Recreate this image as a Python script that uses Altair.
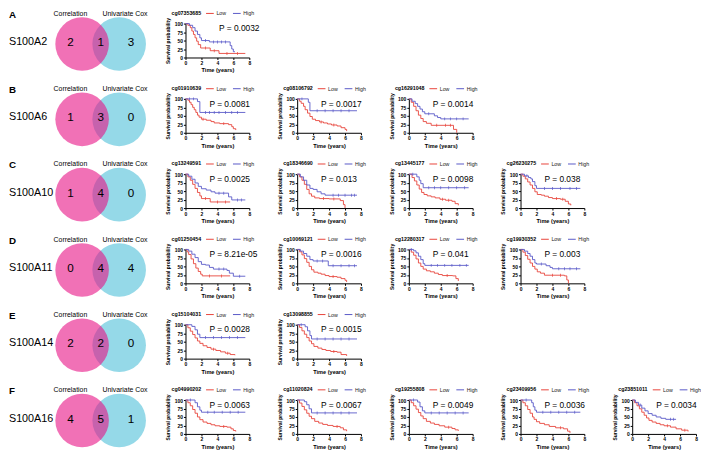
import altair as alt
import pandas as pd

FONT = "Liberation Sans"
RED = "#E8453C"
BLUE = "#5A5AC8"
PINK = "#E81285"   # drawn at 0.6 opacity
CYAN = "#95D9E8"

# ---------------- Venn data ----------------
LETTERS = ["A", "B", "C", "D", "E", "F"]
GENES = ["S100A2", "S100A6", "S100A10", "S100A11", "S100A14", "S100A16"]
CORR_ONLY = [2, 1, 1, 0, 2, 4]
BOTH = [1, 3, 4, 4, 2, 5]
COX_ONLY = [3, 0, 0, 4, 0, 1]

# ---------------- KM panels ----------------
PROBES = [
    ["cg07353685"],
    ["cg01910639", "cg08106792", "cg16291048"],
    ["cg13249591", "cg18346690", "cg13445177", "cg26230275"],
    ["cg01250454", "cg10069121", "cg12280317", "cg19930352"],
    ["cg15104031", "cg13098855"],
    ["cg04990202", "cg11020824", "cg19255808", "cg23409956", "cg23851011"],
]
PVALS = [
    ["0.0032"],
    ["0.0081", "0.0017", "0.0014"],
    ["0.0025", "0.013", "0.0098", "0.038"],
    ["8.21e-05", "0.0016", "0.041", "0.003"],
    ["0.0028", "0.0015"],
    ["0.0063", "0.0067", "0.0049", "0.0036", "0.0034"],
]

CURVES = {
    "cg07353685": dict(
        low_t=[0, 0.3, 0.6, 0.8, 1.0, 1.2, 1.4, 1.6, 1.9, 3.1, 4.2, 7.5],
        low_s=[100, 95, 88, 78, 68, 58, 48, 38, 28, 20, 12, 12],
        low_c=[2.5, 3.6, 5.2, 6.5],
        high_t=[0, 0.5, 0.9, 1.2, 1.5, 1.8, 2.0, 3.0, 5.6, 5.8, 6.0, 6.2],
        high_s=[100, 95, 88, 78, 68, 58, 50, 46, 35, 25, 17, 17],
        high_c=[2.5, 3.5, 4.0, 4.5, 5.0]),
    "cg01910639": dict(
        low_t=[0, 0.3, 0.5, 0.7, 0.9, 1.1, 1.3, 1.5, 1.7, 2.0, 2.6, 3.2, 3.6, 4.3, 5.4, 5.8, 6.0, 6.3],
        low_s=[100, 96, 90, 83, 75, 68, 60, 52, 46, 40, 37, 33, 29, 27, 24, 18, 12, 8],
        low_c=[2.2, 4.8],
        high_t=[0, 1.5, 1.8, 7.5],
        high_s=[100, 92, 60, 60],
        high_c=[0.5, 1.0, 2.5, 3.0, 3.6, 4.2, 5.0, 5.8, 6.5]),
    "cg08106792": dict(
        low_t=[0, 0.3, 0.5, 0.8, 1.0, 1.3, 1.6, 1.9, 2.3, 2.8, 3.3, 3.8, 4.3, 5.0, 5.5, 6.0, 6.2],
        low_s=[100, 93, 87, 78, 68, 58, 48, 40, 36, 32, 29, 26, 23, 20, 15, 10, 5],
        low_c=[3.0, 4.6],
        high_t=[0, 1.4, 1.6, 7.5],
        high_s=[100, 90, 65, 65],
        high_c=[0.6, 2.5, 3.5, 4.5, 5.5, 6.5]),
    "cg16291048": dict(
        low_t=[0, 0.3, 0.6, 0.9, 1.2, 1.5, 1.8, 2.2, 2.8, 5.6, 6.0],
        low_s=[100, 90, 78, 65, 52, 42, 33, 28, 22, 10, 0],
        low_c=[3.5, 4.6, 5.2],
        high_t=[0, 0.4, 0.8, 1.1, 1.4, 1.7, 2.0, 3.2, 3.6, 4.0, 7.5],
        high_s=[100, 93, 86, 78, 70, 62, 56, 50, 45, 41, 41],
        high_c=[2.5, 4.5, 5.2, 6.0, 6.8]),
    "cg13249591": dict(
        low_t=[0, 0.3, 0.6, 0.9, 1.2, 1.5, 1.8, 2.0, 3.1, 5.6],
        low_s=[100, 92, 82, 70, 58, 46, 36, 28, 18, 18],
        low_c=[2.5, 4.0, 5.0],
        high_t=[0, 0.4, 0.8, 1.2, 1.6, 2.0, 2.6, 3.2, 3.7, 5.4, 5.8, 7.5],
        high_s=[100, 94, 85, 74, 64, 57, 53, 48, 44, 33, 24, 24],
        high_c=[4.2, 4.8, 6.5, 7.0]),
    "cg18346690": dict(
        low_t=[0, 0.3, 0.6, 0.9, 1.2, 1.5, 1.8, 2.2, 2.8, 4.0, 5.4, 5.8, 6.0],
        low_s=[100, 92, 82, 70, 55, 42, 35, 30, 28, 27, 22, 10, 0],
        low_c=[3.3, 4.6],
        high_t=[0, 0.4, 0.8, 1.2, 1.6, 2.0, 2.5, 3.0, 3.5, 7.5],
        high_s=[100, 92, 82, 68, 58, 55, 48, 42, 38, 38],
        high_c=[4.5, 5.2, 6.0, 6.8, 7.2]),
    "cg13445177": dict(
        low_t=[0, 0.4, 0.7, 1.0, 1.3, 1.6, 1.9, 2.3, 2.8, 3.3, 3.9, 4.6, 5.4, 5.8, 6.2],
        low_s=[100, 90, 80, 68, 56, 46, 40, 36, 33, 30, 26, 23, 20, 13, 8],
        low_c=[4.2, 5.0],
        high_t=[0, 1.0, 1.3, 1.5, 1.8, 7.5],
        high_s=[100, 92, 82, 72, 60, 60],
        high_c=[0.5, 2.5, 3.2, 4.0, 5.0, 6.0, 7.0]),
    "cg26230275": dict(
        low_t=[0, 0.3, 0.6, 0.9, 1.2, 1.5, 1.8, 2.1, 2.6, 3.0, 3.5, 4.0, 5.0, 5.6, 6.0, 6.3],
        low_s=[100, 94, 86, 77, 68, 58, 48, 40, 38, 35, 31, 28, 26, 20, 12, 8],
        low_c=[4.5, 5.3],
        high_t=[0, 0.5, 1.0, 1.3, 1.5, 1.8, 2.0, 7.5],
        high_s=[100, 95, 90, 86, 78, 66, 58, 58],
        high_c=[0.8, 3.0, 4.0, 5.0, 6.2, 7.0]),
    "cg01250454": dict(
        low_t=[0, 0.2, 0.4, 0.7, 1.0, 1.3, 1.6, 1.9, 2.1, 5.6],
        low_s=[100, 93, 85, 72, 58, 45, 35, 27, 22, 22],
        low_c=[3.0, 4.5],
        high_t=[0, 0.4, 0.8, 1.2, 1.6, 2.0, 2.5, 3.0, 3.5, 5.2, 5.5, 6.0, 7.5],
        high_s=[100, 95, 86, 76, 64, 56, 54, 47, 42, 38, 30, 21, 21],
        high_c=[4.2, 4.8, 6.8]),
    "cg10069121": dict(
        low_t=[0, 0.3, 0.6, 0.9, 1.2, 1.5, 1.8, 2.1, 2.6, 3.0, 3.5, 4.0, 5.0, 5.5, 6.0, 6.2],
        low_s=[100, 93, 84, 73, 62, 50, 40, 33, 30, 27, 23, 20, 18, 14, 9, 4],
        low_c=[4.5],
        high_t=[0, 0.4, 0.8, 1.2, 1.6, 2.0, 3.9, 7.5],
        high_s=[100, 95, 88, 80, 70, 66, 52, 52],
        high_c=[2.5, 3.2, 4.5, 5.5, 6.5, 7.2]),
    "cg12280317": dict(
        low_t=[0, 0.3, 0.6, 0.9, 1.2, 1.5, 1.8, 2.2, 2.7, 3.2, 3.7, 4.2, 5.5, 5.9, 6.2],
        low_s=[100, 92, 83, 72, 60, 50, 42, 37, 34, 30, 26, 23, 22, 14, 7],
        low_c=[4.8],
        high_t=[0, 0.6, 0.9, 1.2, 1.5, 1.8, 2.0, 7.5],
        high_s=[100, 96, 90, 80, 70, 58, 53, 53],
        high_c=[0.3, 2.8, 3.6, 4.5, 5.4, 6.4, 7.2]),
    "cg19930352": dict(
        low_t=[0, 0.3, 0.6, 0.9, 1.2, 1.5, 1.8, 2.1, 2.5, 3.0, 5.5, 5.8, 6.0],
        low_s=[100, 92, 82, 71, 60, 50, 42, 34, 30, 24, 22, 10, 0],
        low_c=[4.0, 5.0],
        high_t=[0, 0.5, 0.9, 1.2, 1.5, 1.8, 2.0, 3.2, 3.7, 4.0, 7.5],
        high_s=[100, 95, 88, 80, 70, 60, 57, 52, 47, 43, 43],
        high_c=[2.6, 4.8, 5.5, 6.2, 7.0]),
    "cg15104031": dict(
        low_t=[0, 0.3, 0.6, 0.9, 1.2, 1.5, 1.8, 2.2, 2.7, 3.2, 3.8, 4.4, 5.0, 5.6, 6.2],
        low_s=[100, 91, 81, 71, 61, 52, 45, 38, 33, 28, 24, 20, 16, 12, 10],
        low_c=[3.5, 5.3],
        high_t=[0, 0.8, 1.2, 1.5, 1.8, 7.5],
        high_s=[100, 95, 85, 72, 62, 62],
        high_c=[2.5, 3.5, 4.5, 5.5, 6.5]),
    "cg13098855": dict(
        low_t=[0, 0.3, 0.6, 0.9, 1.2, 1.5, 1.8, 2.1, 2.6, 3.1, 3.6, 4.2, 5.0, 5.5, 6.2],
        low_s=[100, 92, 82, 72, 62, 52, 44, 36, 31, 27, 24, 21, 19, 12, 8],
        low_c=[4.6],
        high_t=[0, 1.0, 1.3, 1.6, 1.8, 7.5],
        high_s=[100, 94, 82, 68, 58, 58],
        high_c=[0.5, 2.5, 3.5, 4.5, 5.5, 6.5]),
    "cg04990202": dict(
        low_t=[0, 0.3, 0.6, 0.9, 1.2, 1.5, 1.8, 2.2, 2.7, 3.2, 3.7, 4.3, 5.2, 5.7, 6.0, 6.3],
        low_s=[100, 92, 83, 72, 61, 50, 42, 35, 31, 27, 24, 22, 20, 15, 10, 7],
        low_c=[4.8],
        high_t=[0, 1.2, 1.5, 1.8, 2.0, 7.5],
        high_s=[100, 92, 80, 70, 64, 64],
        high_c=[0.6, 2.8, 3.6, 4.6, 5.6, 6.6]),
    "cg11020824": dict(
        low_t=[0, 0.3, 0.6, 0.9, 1.2, 1.5, 1.8, 2.2, 2.7, 3.2, 3.8, 4.5, 5.4, 5.8, 6.2],
        low_s=[100, 91, 81, 71, 61, 52, 45, 37, 32, 28, 25, 22, 18, 12, 8],
        low_c=[5.0],
        high_t=[0, 0.9, 1.2, 1.5, 1.8, 7.5],
        high_s=[100, 95, 86, 74, 62, 62],
        high_c=[2.5, 3.5, 4.5, 5.5, 6.5]),
    "cg19255808": dict(
        low_t=[0, 0.3, 0.6, 0.9, 1.2, 1.5, 1.8, 2.2, 2.7, 3.2, 3.8, 4.5, 5.4, 5.8, 6.2],
        low_s=[100, 92, 83, 73, 63, 53, 45, 37, 32, 28, 24, 20, 16, 12, 9],
        low_c=[5.0],
        high_t=[0, 1.1, 1.4, 1.7, 2.0, 7.5],
        high_s=[100, 94, 80, 68, 62, 62],
        high_c=[0.6, 2.8, 3.8, 4.8, 5.8, 6.8]),
    "cg23409956": dict(
        low_t=[0, 0.3, 0.6, 0.9, 1.2, 1.5, 1.7, 2.0, 2.4, 3.0, 3.6, 4.4, 5.4, 5.9, 6.2],
        low_s=[100, 92, 83, 72, 61, 50, 43, 36, 31, 27, 22, 18, 15, 8, 3],
        low_c=[5.0],
        high_t=[0, 1.4, 1.6, 1.8, 2.0, 7.5],
        high_s=[100, 92, 80, 70, 64, 64],
        high_c=[0.7, 2.8, 3.8, 4.8, 5.8, 6.8]),
    "cg23851011": dict(
        low_t=[0, 0.3, 0.6, 0.9, 1.2, 1.5, 1.8, 2.1, 2.5, 3.0, 3.5, 4.0, 4.8, 5.5, 6.2, 7.0],
        low_s=[100, 92, 83, 74, 64, 55, 47, 40, 35, 31, 27, 24, 20, 15, 11, 7],
        low_c=[4.4, 6.6],
        high_t=[0, 0.4, 0.8, 1.2, 1.6, 2.0, 2.5, 3.0, 3.6, 4.2, 5.5],
        high_s=[100, 93, 85, 76, 68, 60, 55, 50, 46, 43, 43],
        high_c=[1.0, 4.8, 5.2]),
}

# ---------------- layout (pixels) ----------------
S = 0.978
PW, PH = 64, 34
COL_GAP, ROW_GAP = 48, 41.5
VENN_W = 130
P_X_DEFAULT = 3.0
P_X_OVERRIDE = {"cg07353685": 4.2}


def txt(text, x, y, size, weight="normal", align="left", color="black"):
    return alt.Chart(pd.DataFrame({"lab": [text]})).mark_text(
        align=align, baseline="middle", fontSize=size, fontWeight=weight,
        font=FONT, color=color
    ).encode(x=alt.value(x), y=alt.value(y), text="lab:N")


def venn(i):
    one = pd.DataFrame({"a": [0]})
    cy = 21 * S
    blue = alt.Chart(one).mark_circle(size=2885, color=CYAN, opacity=1, strokeWidth=0).encode(
        x=alt.value(114 * S), y=alt.value(cy))
    pink = alt.Chart(one).mark_circle(size=2885, color=PINK, opacity=0.6, strokeWidth=0).encode(
        x=alt.value(76 * S), y=alt.value(cy))
    ny = 19 * S
    layers = [
        blue, pink,
        txt(LETTERS[i], 1 * S, -9 * S, 9.8, weight="bold"),
        txt(GENES[i], 1 * S, ny, 10.8),
        txt("Correlation", 64 * S, -10 * S, 6.9, align="center"),
        txt("Univariate Cox", 120 * S, -10 * S, 6.9, align="center"),
        txt(str(CORR_ONLY[i]), 64 * S, ny, 11.7, align="center"),
        txt(str(BOTH[i]), 95 * S, ny, 11.7, align="center"),
        txt(str(COX_ONLY[i]), 126 * S, ny, 11.7, align="center"),
    ]
    return alt.layer(*layers).properties(width=VENN_W, height=PH)


def step_value(ts, ss, tc):
    v = ss[0]
    for t, s in zip(ts, ss):
        if t <= tc:
            v = s
    return v


def km(probe, pval):
    c = CURVES[probe]
    rows = []
    for grp in ("Low", "High"):
        ts, ss = c[grp.lower() + "_t"], c[grp.lower() + "_s"]
        for k, (t, s) in enumerate(zip(ts, ss)):
            rows.append({"t": t, "s": s, "grp": grp, "o": k})
    df = pd.DataFrame(rows)

    xenc = alt.X("t:Q", scale=alt.Scale(domain=[0, 8], nice=False),
                 axis=alt.Axis(values=[0, 2, 4, 6, 8], title="Time (years)"))
    yenc = alt.Y("s:Q", scale=alt.Scale(domain=[0, 100], nice=False),
                 axis=alt.Axis(values=[0, 25, 50, 75, 100], title="Survival probability"))
    color = alt.Color(
        "grp:N",
        scale=alt.Scale(domain=["Low", "High"], range=[RED, BLUE]),
        legend=alt.Legend(title=probe, orient="none", legendX=-14, legendY=-14.8,
                          direction="horizontal", titleOrient="left",
                          symbolType="stroke"),
    )
    lines = alt.Chart(df).mark_line(interpolate="step-after", strokeWidth=0.9).encode(
        x=xenc, y=yenc, color=color, order="o:Q")

    layers = [lines]
    for grp, col in (("Low", RED), ("High", BLUE)):
        ts, ss = c[grp.lower() + "_t"], c[grp.lower() + "_s"]
        cens = c[grp.lower() + "_c"]
        cdf = pd.DataFrame({"t": cens, "s": [step_value(ts, ss, tc) for tc in cens]})
        layers.append(alt.Chart(cdf).mark_tick(orient="vertical", size=3, thickness=0.7,
                                               color=col, opacity=1).encode(x=xenc, y=yenc))
    pdf = pd.DataFrame({"t": [P_X_OVERRIDE.get(probe, P_X_DEFAULT)], "s": [86],
                        "lab": ["P = " + pval]})
    layers.append(alt.Chart(pdf).mark_text(align="left", baseline="middle", fontSize=8.4,
                                           font=FONT, color="black").encode(
        x=xenc, y=yenc, text="lab:N"))
    return alt.layer(*layers).properties(width=PW, height=PH)


def empty():
    return alt.Chart(pd.DataFrame({"a": [0]})).mark_point(opacity=0).encode(
        x=alt.value(0), y=alt.value(0)).properties(width=PW, height=PH)


cells = []
for i in range(6):
    cells.append(venn(i))
    for j in range(5):
        if j < len(PROBES[i]):
            cells.append(km(PROBES[i][j], PVALS[i][j]))
        else:
            cells.append(empty())

chart = alt.concat(
    *cells, columns=6, spacing={"row": ROW_GAP, "column": COL_GAP},
    bounds="flush", align="each"
).resolve_scale(
    color="independent", x="independent", y="independent"
).resolve_legend(color="independent").properties(padding=0).configure_view(
    stroke=None
).configure_axis(
    grid=False, domainColor="black", domainWidth=1, tickColor="black", tickWidth=1,
    tickSize=2, labelFont=FONT, labelFontSize=5, labelFontWeight="bold",
    labelColor="black", labelPadding=1, labelFlush=False, labelOverlap=False,
    titleFont=FONT, titleFontWeight="bold", titleColor="black"
).configure_axisX(titleFontSize=5.6, titlePadding=2.5).configure_axisY(
    titleFontSize=5.0, titlePadding=3.5
).configure_legend(
    titleFont=FONT, labelFont=FONT, titleFontSize=5.3, labelFontSize=5.3,
    titleFontWeight="bold", titleColor="black", labelColor="#222222",
    symbolSize=60, symbolStrokeWidth=1, labelOffset=2, columnPadding=4,
    titlePadding=4, padding=0
)

chart.save("out.html", embed_options={"renderer": "svg", "actions": False})
